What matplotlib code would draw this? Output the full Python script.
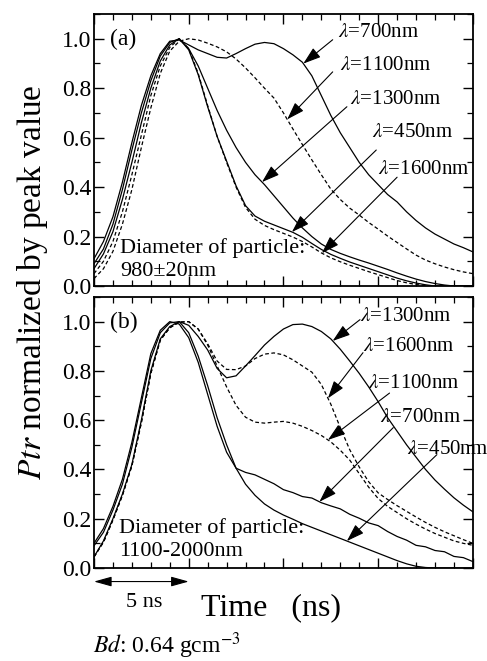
import numpy as np
import matplotlib
matplotlib.use('Agg')
import matplotlib.pyplot as plt
from matplotlib.ticker import MultipleLocator, NullFormatter

plt.rcParams['font.family'] = ['Liberation Serif', 'DejaVu Serif']
plt.rcParams['mathtext.fontset'] = 'stix'

# time grid (ns) the curves were read at
t = np.arange(0, 20.5, 0.5)

# panel (a): diameter 980 +- 20 nm
a_700 = [0.11, 0.18, 0.28, 0.42, 0.58, 0.73, 0.85, 0.94, 0.99, 0.995, 0.975, 0.955, 0.94, 0.925,
         0.922, 0.94, 0.96, 0.978, 0.985, 0.98, 0.96, 0.935, 0.905, 0.85, 0.77, 0.69, 0.62, 0.56,
         0.50, 0.45, 0.41, 0.37, 0.34, 0.30, 0.265, 0.235, 0.21, 0.19, 0.17, 0.155, 0.138]
a_1100 = [0.03, 0.07, 0.14, 0.25, 0.39, 0.56, 0.72, 0.86, 0.95, 0.99, 1.0, 0.995, 0.982, 0.967,
          0.947, 0.918, 0.882, 0.842, 0.80, 0.76, 0.70, 0.635, 0.572, 0.51, 0.45, 0.392, 0.35,
          0.315, 0.287, 0.257, 0.23, 0.202, 0.176, 0.15, 0.125, 0.105, 0.09, 0.077, 0.066, 0.057, 0.05]
a_1300 = [0.09, 0.15, 0.25, 0.39, 0.55, 0.70, 0.83, 0.93, 0.985, 1.0, 0.96, 0.89, 0.80, 0.71,
          0.63, 0.56, 0.50, 0.45, 0.41, 0.365, 0.32, 0.275, 0.235, 0.20, 0.17, 0.148, 0.132,
          0.118, 0.105, 0.093, 0.08, 0.067, 0.053, 0.04, 0.028, 0.018, 0.01, 0.004, 0.0, 0.0, 0.0]
a_450 = [0.07, 0.13, 0.22, 0.35, 0.50, 0.66, 0.80, 0.91, 0.975, 1.0, 0.955, 0.855, 0.725, 0.605,
         0.505, 0.405, 0.325, 0.283, 0.262, 0.247, 0.232, 0.217, 0.197, 0.172, 0.148, 0.128, 0.112,
         0.097, 0.084, 0.071, 0.058, 0.045, 0.032, 0.021, 0.012, 0.005, 0.0, 0.0, 0.0, 0.0, 0.0]
a_1600 = [0.05, 0.10, 0.18, 0.30, 0.45, 0.61, 0.77, 0.89, 0.965, 1.0, 0.96, 0.86, 0.73, 0.605,
          0.50, 0.40, 0.318, 0.27, 0.245, 0.228, 0.213, 0.198, 0.18, 0.158, 0.134, 0.114, 0.098,
          0.084, 0.071, 0.058, 0.046, 0.034, 0.022, 0.013, 0.006, 0.002, 0.0, 0.0, 0.0, 0.0, 0.0]

# panel (b): diameter 1100-2000 nm
b_1300 = [0.045, 0.11, 0.20, 0.30, 0.42, 0.60, 0.80, 0.93, 0.98, 1.0, 0.985, 0.94, 0.885, 0.81,
          0.772, 0.78, 0.82, 0.862, 0.905, 0.94, 0.97, 0.988, 0.99, 0.98, 0.96, 0.93, 0.888, 0.84,
          0.79, 0.735, 0.675, 0.61, 0.555, 0.5, 0.45, 0.4, 0.357, 0.32, 0.285, 0.255, 0.228]
b_1600 = [0.045, 0.105, 0.195, 0.295, 0.415, 0.59, 0.79, 0.925, 0.975, 0.998, 1.0, 0.97, 0.91,
          0.84, 0.806, 0.805, 0.82, 0.85, 0.868, 0.873, 0.865, 0.845, 0.82, 0.795, 0.745, 0.665,
          0.57, 0.48, 0.41, 0.35, 0.305, 0.278, 0.253, 0.23, 0.207, 0.185, 0.165, 0.147, 0.131, 0.115, 0.1]
b_1100 = [0.045, 0.105, 0.195, 0.295, 0.415, 0.59, 0.79, 0.925, 0.975, 0.998, 1.0, 0.97, 0.905,
          0.82, 0.735, 0.66, 0.612, 0.592, 0.588, 0.592, 0.595, 0.588, 0.575, 0.558, 0.538, 0.512,
          0.478, 0.438, 0.383, 0.328, 0.282, 0.25, 0.225, 0.2, 0.178, 0.158, 0.14, 0.125, 0.11, 0.1, 0.092]
b_700 = [0.10, 0.16, 0.25, 0.36, 0.51, 0.69, 0.87, 0.965, 1.0, 0.99, 0.935, 0.835, 0.705, 0.575,
         0.47, 0.405, 0.388, 0.378, 0.36, 0.342, 0.318, 0.306, 0.29, 0.284, 0.265, 0.252, 0.24,
         0.218, 0.202, 0.183, 0.172, 0.148, 0.128, 0.113, 0.092, 0.086, 0.071, 0.066, 0.047, 0.042, 0.026]
b_450 = [0.09, 0.145, 0.235, 0.34, 0.49, 0.67, 0.85, 0.955, 0.995, 1.0, 0.955, 0.86, 0.74, 0.61,
         0.5, 0.405, 0.34, 0.295, 0.26, 0.235, 0.215, 0.198, 0.18, 0.165, 0.15, 0.135, 0.12, 0.105,
         0.09, 0.075, 0.06, 0.045, 0.03, 0.017, 0.007, 0.002, 0.0, 0.0, 0.0, 0.0, 0.0]

# (label, values, dashed, arrow tip time, text x/y, arrow start x/y)
panel_a = [
    ('700', a_700, False, 11.05, 12.9, 1.024, 12.6, 0.996),
    ('1100', a_1100, True, 10.2, 13.0, 0.89, 12.6, 0.866),
    ('1300', a_1300, False, 8.87, 13.5, 0.753, 13.35, 0.725),
    ('450', a_450, False, 10.45, 14.7, 0.62, 14.9, 0.55),
    ('1600', a_1600, True, 12.03, 15.0, 0.47, 16.0, 0.44),
]
panel_b = [
    ('1300', b_1300, False, 12.6, 14.04, 1.02, 14.04, 1.008),
    ('1600', b_1600, True, 12.35, 14.2, 0.898, 14.2, 0.874),
    ('1100', b_1100, True, 12.35, 14.46, 0.75, 15.6, 0.71),
    ('700', b_700, False, 11.9, 15.1, 0.61, 15.8, 0.57),
    ('450', b_450, False, 13.35, 16.5, 0.48, 18.1, 0.46),
]


def setup(ax):
    ax.set_xlim(0, 20)
    ax.set_ylim(0, 1.1)
    ax.xaxis.set_major_locator(MultipleLocator(5))
    ax.xaxis.set_minor_locator(MultipleLocator(1))
    ax.xaxis.set_major_formatter(NullFormatter())
    ax.yaxis.set_major_locator(MultipleLocator(0.2))
    ax.yaxis.set_minor_locator(MultipleLocator(0.1))
    ax.set_yticks([0, 0.2, 0.4, 0.6, 0.8, 1.0])
    ax.set_yticklabels(['0.0', '0.2', '0.4', '0.6', '0.8', '1.0'])
    ax.tick_params(which='both', direction='in', top=True, right=True, labelsize=17, pad=2)
    ax.tick_params(which='major', length=7, width=1.0)
    ax.tick_params(which='minor', length=4, width=0.9)
    for s in ax.spines.values():
        s.set_linewidth(1.3)


def draw(ax, curves):
    for lab, v, dashed, tip, tx, ty, sx, sy in curves:
        ax.plot(t, v, color='k', lw=0.9, ls=(0, (3, 2)) if dashed else '-')
        ax.text(tx, ty, r'$\lambda$=' + lab + 'nm', fontsize=15, ha='left', va='center')
        ax.annotate('', xy=(tip, np.interp(tip, t, v)), xytext=(sx, sy),
                    arrowprops=dict(arrowstyle='-|>,head_length=0.9,head_width=0.3',
                                    color='k', lw=0.8, shrinkA=0, shrinkB=0,
                                    mutation_scale=12))


fig = plt.figure(figsize=(4.87, 6.61), dpi=100)
ax1 = fig.add_axes([0.193, 0.5673, 0.778, 0.4115])
ax2 = fig.add_axes([0.193, 0.1407, 0.778, 0.410])

setup(ax1)
setup(ax2)
draw(ax1, panel_a)
draw(ax2, panel_b)

ax1.text(0.84, 0.996, '(a)', fontsize=17, ha='left', va='center')
ax2.text(0.84, 0.996, '(b)', fontsize=17, ha='left', va='center')
ax1.text(1.37, 0.154, 'Diameter of particle:', fontsize=16, ha='left', va='center')
ax1.text(1.37, 0.057, '980±20nm', fontsize=16, ha='left', va='center')
ax2.text(1.3, 0.162, 'Diameter of particle:', fontsize=16, ha='left', va='center')
ax2.text(1.3, 0.068, '1100-2000nm', fontsize=16, ha='left', va='center')

# 5 ns scale arrow under the lower panel
ax2.annotate('', xy=(0, -0.05), xytext=(5, -0.05), xycoords=ax2.get_xaxis_transform(),
             textcoords=ax2.get_xaxis_transform(), annotation_clip=False,
             arrowprops=dict(arrowstyle='<|-|>,head_length=0.9,head_width=0.25',
                             color='k', lw=0.8, shrinkA=0, shrinkB=0, mutation_scale=12))

fig.text(0.296, 0.089, '5 ns', fontsize=16, ha='center', va='center')
fig.text(0.556, 0.080, 'Time   (ns)', fontsize=23, ha='center', va='center')
fig.text(0.066, 0.573, '$Ptr$ normalized by peak value', fontsize=24, rotation=90,
         ha='center', va='center')
fig.text(0.191, 0.012, '$Bd$: 0.64 gcm$^{-3}$', fontsize=17, ha='left', va='baseline')

fig.savefig('out.png', dpi=100)
